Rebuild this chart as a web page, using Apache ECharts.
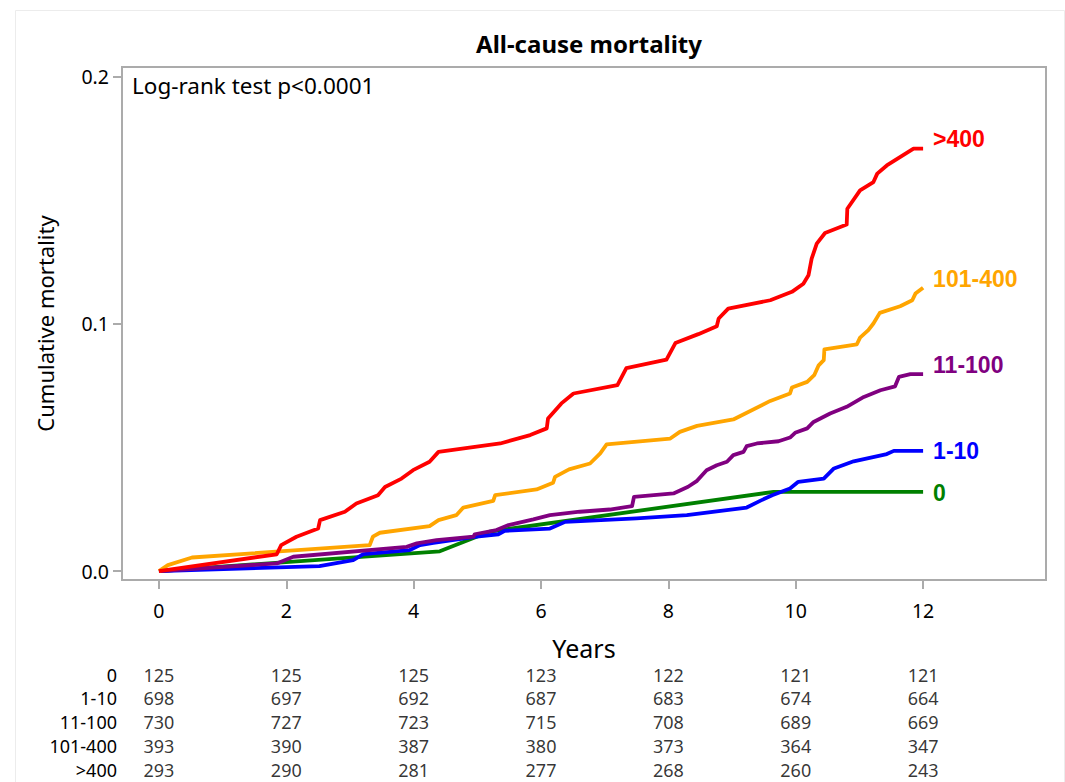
<!DOCTYPE html>
<html>
<head>
<meta charset="utf-8">
<script src="https://cdn.jsdelivr.net/npm/echarts@6/dist/echarts.min.js"></script>
<style>html,body{margin:0;padding:0;background:#fff;}#c{width:1065px;height:782px;}</style>
</head>
<body>
<div id="c"></div>
<script>
// ---- data ----
const groupNames = ['0', '1-10', '11-100', '101-400', '>400'];
const xTicks = [0, 2, 4, 6, 8, 10, 12];
const yTicks = [0, 0.1, 0.2];

const tGrp0 = [0, 4.41, 5.2, 9.65, 12];
const mGrp0 = [0, 0.008, 0.016, 0.032, 0.032];

const tGrp1_10 = [0, 2.52, 3.05, 3.21, 3.94, 4.1, 4.31, 4.99, 5.33, 5.43, 6.14, 6.38, 7.5, 8.29, 9.23, 9.44, 9.63, 9.91, 10.04, 10.44, 10.6, 10.91, 11.43, 11.54, 12.0];
const mGrp1_10 = [0, 0.002, 0.0044, 0.0069, 0.0085, 0.0105, 0.0114, 0.0139, 0.0149, 0.0163, 0.0172, 0.0199, 0.0213, 0.0226, 0.0257, 0.0284, 0.0307, 0.0334, 0.0361, 0.0374, 0.0415, 0.0444, 0.0473, 0.0486, 0.0486];

const tGrp11_100 = [0, 1.85, 2.11, 3.89, 4.05, 4.36, 4.94, 4.96, 5.3, 5.49, 5.88, 6.14, 6.61, 7.08, 7.43, 7.46, 8.08, 8.31, 8.45, 8.6, 8.76, 8.92, 9.02, 9.18, 9.23, 9.39, 9.73, 9.91, 9.99, 10.18, 10.28, 10.54, 10.8, 11.07, 11.33, 11.56, 11.62, 11.8, 12.0];
const mGrp11_100 = [0, 0.0031, 0.0058, 0.0098, 0.0112, 0.0125, 0.0139, 0.0149, 0.0166, 0.0186, 0.0209, 0.0226, 0.024, 0.0249, 0.0263, 0.03, 0.0314, 0.0341, 0.0365, 0.0408, 0.0428, 0.0442, 0.0469, 0.0482, 0.0505, 0.0516, 0.0525, 0.054, 0.0559, 0.0577, 0.0603, 0.0637, 0.0664, 0.0704, 0.0731, 0.0747, 0.0785, 0.0796, 0.0796];

const tGrp101_400 = [0, 0.14, 0.52, 3.31, 3.36, 3.47, 4.25, 4.39, 4.67, 4.78, 5.25, 5.28, 5.93, 6.19, 6.22, 6.44, 6.77, 6.93, 7.03, 8.03, 8.18, 8.45, 9.02, 9.6, 9.91, 9.94, 10.18, 10.29, 10.36, 10.44, 10.45, 10.96, 11.01, 11.14, 11.22, 11.32, 11.64, 11.83, 11.88, 12.0];
const mGrp101_400 = [0, 0.0024, 0.0055, 0.0105, 0.0139, 0.0155, 0.0182, 0.0206, 0.0226, 0.0257, 0.0284, 0.0307, 0.033, 0.0357, 0.0381, 0.0411, 0.0435, 0.0476, 0.0512, 0.0536, 0.0563, 0.0587, 0.0613, 0.0688, 0.0718, 0.0742, 0.0765, 0.0792, 0.0832, 0.0853, 0.0896, 0.0917, 0.0944, 0.0974, 0.1001, 0.1044, 0.1071, 0.1095, 0.1122, 0.1146];

const tGrpGt400 = [0, 1.85, 1.92, 2.16, 2.5, 2.53, 2.92, 3.10, 3.44, 3.55, 3.81, 3.99, 4.25, 4.39, 5.36, 5.83, 6.09, 6.11, 6.32, 6.51, 7.2, 7.34, 7.97, 8.11, 8.47, 8.76, 8.79, 8.94, 9.6, 9.94, 10.12, 10.2, 10.25, 10.33, 10.46, 10.8, 10.81, 11.01, 11.22, 11.28, 11.43, 11.85, 12.0];
const mGrpGt400 = [0, 0.0068, 0.0105, 0.0139, 0.0172, 0.0206, 0.024, 0.0273, 0.0307, 0.034, 0.0374, 0.0408, 0.0442, 0.0482, 0.0516, 0.055, 0.0577, 0.0617, 0.0678, 0.0718, 0.0752, 0.0821, 0.0855, 0.0922, 0.0958, 0.099, 0.1021, 0.1061, 0.1095, 0.1129, 0.1162, 0.1196, 0.1263, 0.1324, 0.1367, 0.1401, 0.1465, 0.1539, 0.1573, 0.1607, 0.164, 0.1708, 0.1708];

const atRisk0 = [125, 125, 125, 123, 122, 121, 121];
const atRisk1_10 = [698, 697, 692, 687, 683, 674, 664];
const atRisk11_100 = [730, 727, 723, 715, 708, 689, 669];
const atRisk101_400 = [393, 390, 387, 380, 373, 364, 347];
const atRiskGt400 = [293, 290, 281, 277, 268, 260, 243];

// ---- build ----
const curves = [
  {name: '0', t: tGrp0, m: mGrp0, color: '#008000', dy: 1},
  {name: '1-10', t: tGrp1_10, m: mGrp1_10, color: '#0000FF', dy: 0},
  {name: '11-100', t: tGrp11_100, m: mGrp11_100, color: '#800080', dy: -9},
  {name: '101-400', t: tGrp101_400, m: mGrp101_400, color: '#FFA500', dy: -9},
  {name: '>400', t: tGrpGt400, m: mGrpGt400, color: '#FF0000', dy: -10}
];
const atRiskRows = [atRisk0, atRisk1_10, atRisk11_100, atRisk101_400, atRiskGt400];

const FONT = '"Noto Sans", "Open Sans", sans-serif';
const FRAME = '#ababab';

const lineSeries = curves.map(c => ({
  type: 'line',
  name: c.name,
  xAxisIndex: 0, yAxisIndex: 0,
  data: c.t.map((t, i) => [t, c.m[i]]),
  showSymbol: false,
  symbol: 'none',
  animation: false,
  lineStyle: {color: c.color, width: 3.8, join: 'round', cap: 'butt'},
  itemStyle: {color: c.color},
  endLabel: {
    show: true,
    formatter: c.name,
    color: c.color,
    fontFamily: '"Liberation Sans", Arial, sans-serif',
    fontWeight: 'bold',
    fontSize: 23,
    distance: 10,
    offset: [0, c.dy]
  },
  z: 3
}));

const tableData = [];
atRiskRows.forEach((row, r) => row.forEach((n, k) => tableData.push([xTicks[k], r, n])));

const chart = echarts.init(document.getElementById('c'), null, {renderer: 'svg'});
chart.setOption({
  animation: false,
  backgroundColor: '#fff',
  title: {
    text: 'All-cause mortality',
    left: 584, top: 26,
    textAlign: 'center',
    textStyle: {fontFamily: FONT, fontWeight: 'bold', fontSize: 24, color: '#000'}
  },
  graphic: [
    {type: 'rect', left: 13, top: 8, shape: {width: 1049, height: 790}, style: {fill: 'none', stroke: '#ececec', lineWidth: 1}, z: -1},
    {type: 'text', left: 132, top: 74, style: {text: 'Log-rank test p<0.0001', font: '22.5px "Noto Sans", sans-serif', fill: '#000'}}
  ],
  grid: [
    {left: 122, right: 19, top: 67, bottom: 202, show: true, borderColor: FRAME, borderWidth: 2, containLabel: false},
    {left: 122, right: 19, top: 674.5, bottom: 12, show: false, containLabel: false}
  ],
  xAxis: [
    {
      type: 'value', gridIndex: 0, min: -0.58, max: 13.93,
      name: 'Years', nameLocation: 'middle', nameGap: 55,
      nameTextStyle: {fontFamily: FONT, fontSize: 25, color: '#000'},
      axisLine: {show: true, onZero: false, lineStyle: {color: FRAME, width: 2}},
      axisTick: {show: true, length: 9, customValues: xTicks, lineStyle: {color: FRAME, width: 2}},
      axisLabel: {customValues: xTicks, margin: 20, fontFamily: FONT, fontSize: 19.5, color: '#000', formatter: v => String(v)},
      splitLine: {show: false}
    },
    {
      type: 'value', gridIndex: 1, min: -0.58, max: 13.93, show: false
    }
  ],
  yAxis: [
    {
      type: 'value', gridIndex: 0, min: -0.0036, max: 0.2038,
      name: 'Cumulative mortality', nameLocation: 'middle', nameGap: 66,
      nameTextStyle: {fontFamily: FONT, fontSize: 22, color: '#000'},
      axisLine: {show: true, onZero: false, lineStyle: {color: FRAME, width: 2}},
      axisTick: {show: true, length: 9, customValues: yTicks, lineStyle: {color: FRAME, width: 2}},
      axisLabel: {customValues: yTicks, margin: 13, fontFamily: FONT, fontSize: 19.5, color: '#000', formatter: v => v.toFixed(1)},
      splitLine: {show: false}
    },
    {
      type: 'value', gridIndex: 1, min: 0, max: 4, interval: 1, inverse: true,
      axisLine: {show: false}, axisTick: {show: false}, splitLine: {show: false},
      axisLabel: {margin: 5, fontFamily: FONT, fontSize: 18, lineHeight: 18, color: '#000', formatter: v => groupNames[v]}
    }
  ],
  series: lineSeries.concat([{
    type: 'scatter',
    xAxisIndex: 1, yAxisIndex: 1,
    data: tableData,
    symbolSize: 0,
    animation: false,
    silent: true,
    label: {show: true, position: 'inside', fontFamily: FONT, fontSize: 18, lineHeight: 18, color: '#000', formatter: p => String(p.value[2])}
  }])
});
</script>
</body>
</html>
